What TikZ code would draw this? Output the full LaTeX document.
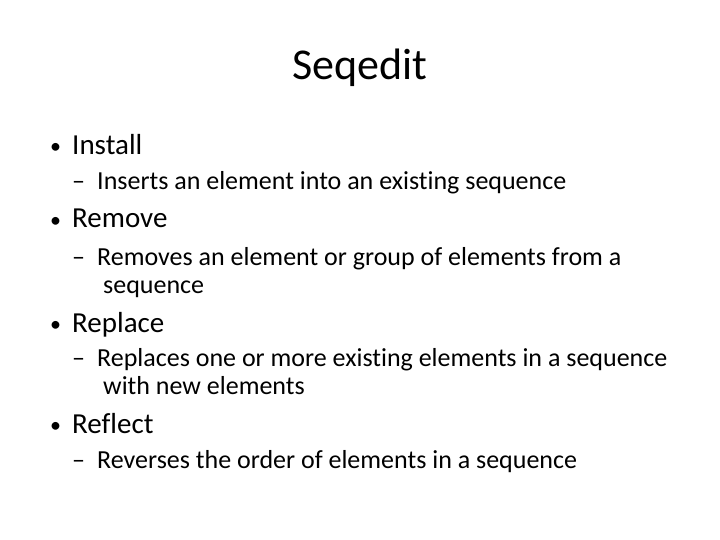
\documentclass[tikz,border=0pt]{standalone}
\usepackage{fontspec}
\setmainfont[Ligatures=NoCommon]{Carlito}
\begin{document}
\begin{tikzpicture}[x=1pt,y=-1pt,
  title/.style={font=\fontsize{44}{48}\selectfont},
  lvlone/.style={anchor=base west,inner sep=0pt,font=\fontsize{29}{32}\selectfont},
  lvltwo/.style={anchor=base west,inner sep=0pt,align=left,font=\fontsize{26}{28}\selectfont},
  mark1/.style={anchor=base west,inner sep=0pt,font=\fontsize{22}{24}\selectfont},
  mark2/.style={anchor=base west,inner sep=0pt,font=\fontsize{26}{28}\selectfont}]
\useasboundingbox (0,0) rectangle (720,540);
\node[title] (t) at (360,68) {Seqedit};
\node[mark1] (b1) at (50,154) {•};
\node[lvlone] (i1) at (72,155) {Install};
\node[mark2] (d1) at (72,190) {–};
\node[lvltwo] (s1) at (97,190) {Inserts an element into an existing sequence};
\node[mark1] (b2) at (50,227) {•};
\node[lvlone] (i2) at (72,228) {Remove};
\node[mark2] (d2) at (72,265) {–};
\node[lvltwo] (s2) at (97,265) {Removes an element or group of elements from a};
\node[lvltwo] (s2b) at (103,293) {sequence};
\node[mark1] (b3) at (50,331) {•};
\node[lvlone] (i3) at (72,332) {Replace};
\node[mark2] (d3) at (72,366) {–};
\node[lvltwo] (s3) at (97,366) {Replaces one or more existing elements in a sequence};
\node[lvltwo] (s3b) at (103,394) {with new elements};
\node[mark1] (b4) at (50,432) {•};
\node[lvlone] (i4) at (72,433) {Reflect};
\node[mark2] (d4) at (72,468) {–};
\node[lvltwo] (s4) at (97,468) {Reverses the order of elements in a sequence};
\end{tikzpicture}
\end{document}
